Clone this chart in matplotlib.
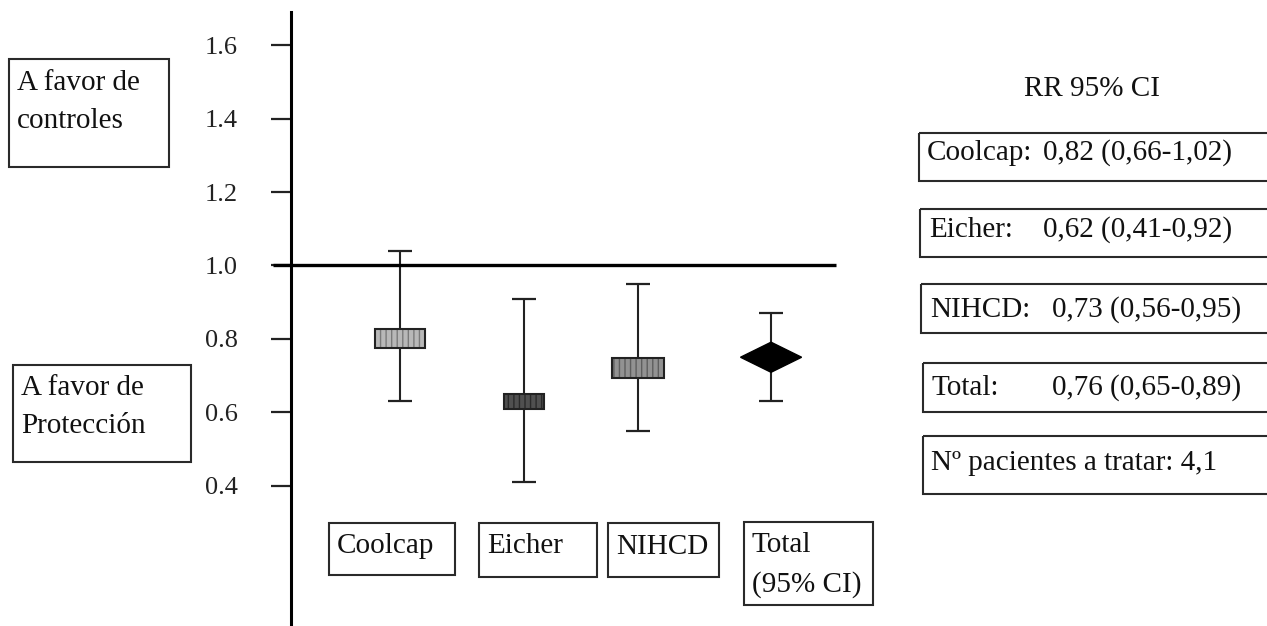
import matplotlib
matplotlib.use("Agg")
import matplotlib.pyplot as plt
from matplotlib.patches import Rectangle, Polygon

# ---------------- data ----------------
studies = ["Coolcap", "Eicher", "NIHCD", "Total"]
rr_point = [0.80, 0.63, 0.72, 0.75]
ci_lower = [0.63, 0.41, 0.55, 0.63]
ci_upper = [1.04, 0.91, 0.95, 0.87]
yticks = [0.4, 0.6, 0.8, 1.0, 1.2, 1.4, 1.6]
ytick_labels = ["0.4", "0.6", "0.8", "1.0", "1.2", "1.4", "1.6"]
table_title = "RR 95% CI"
table_names = ["Coolcap:", "Eicher:", "NIHCD:", "Total:"]
table_values = ["0,82 (0,66-1,02)", "0,62 (0,41-0,92)",
                "0,73 (0,56-0,95)", "0,76 (0,65-0,89)"]
nnt_text = "Nº pacientes a tratar: 4,1"
label_controls = ["A favor de", "controles"]
label_protect = ["A favor de", "Protección"]
bottom_labels = [["Coolcap"], ["Eicher"], ["NIHCD"], ["Total", "(95% CI)"]]

# ---------------- layout / style ----------------
W, H = 1267, 626
FONT = "Liberation Serif"
FS = 21
x_pos = [0.0, 1.0, 1.925, 3.0]                 # category positions
box_w = [0.404, 0.323, 0.42]
box_h = [0.052, 0.041, 0.0545]
box_fill = ["#b8b8b8", "#505050", "#929292"]
box_hatch = ["#7a7a7a", "#2a2a2a", "#5e5e5e"]
diamond_hw, diamond_hh = 0.247, 0.041

plt.rcParams["hatch.linewidth"] = 1.0

fig = plt.figure(figsize=(W / 100, H / 100), dpi=100)
fig.patch.set_facecolor("white")

# main axes: left spine at pixel x=291, top at pixel y=12
ax = fig.add_axes([291 / W, 0, (836 - 291) / W, (H - 12) / H])
ax.set_xlim(-0.881, 3.525)
ax.set_ylim(0.0177, 1.6907)
for s in ["top", "right", "bottom"]:
    ax.spines[s].set_visible(False)
ax.spines["left"].set_linewidth(2.2)
ax.spines["left"].set_color("black")
ax.set_xticks([])
ax.set_yticks(yticks)
ax.set_yticklabels(ytick_labels, fontfamily=FONT, fontsize=19)
ax.tick_params(axis="y", direction="out", length=14.4, width=1.6,
               pad=24, colors="#222222")
ax.patch.set_alpha(0)

# reference line at RR = 1
ax.plot([-1.03, 3.525], [1.0, 1.0], color="black", lw=2.4,
        solid_capstyle="butt", clip_on=False, zorder=3)

# confidence intervals
yerr = [[p - lo for p, lo in zip(rr_point, ci_lower)],
        [hi - p for p, hi in zip(rr_point, ci_upper)]]
ax.errorbar(x_pos, rr_point, yerr=yerr, fmt="none", ecolor="#222222",
            elinewidth=1.5, capsize=8.3, capthick=1.6, zorder=2)

# study boxes
for i in range(3):
    x, y, w, h = x_pos[i], rr_point[i], box_w[i], box_h[i]
    ax.add_patch(Rectangle((x - w / 2, y - h / 2), w, h, facecolor=box_fill[i],
                           edgecolor=box_hatch[i], hatch="|||", lw=0, zorder=4))
    ax.add_patch(Rectangle((x - w / 2, y - h / 2), w, h, facecolor="none",
                           edgecolor="#222222", lw=1.5, zorder=5))

# total diamond
xd, yd = x_pos[3], rr_point[3]
ax.add_patch(Polygon([(xd - diamond_hw, yd), (xd, yd + diamond_hh),
                      (xd + diamond_hw, yd), (xd, yd - diamond_hh)],
                     closed=True, facecolor="black", edgecolor="black",
                     lw=1, zorder=5))

# ---------------- overlay in pixel coordinates ----------------
ov = fig.add_axes([0, 0, 1, 1])
ov.set_xlim(0, W)
ov.set_ylim(H, 0)
ov.axis("off")
ov.patch.set_alpha(0)


def box(x0, y0, x1, y1):
    ov.add_patch(Rectangle((x0, y0), x1 - x0, y1 - y0, facecolor="none",
                           edgecolor="#2a2a2a", lw=1.5))


def txt(x, y, s, ha="left", size=FS):
    ov.text(x, y, s, ha=ha, va="baseline", fontfamily=FONT, fontsize=size,
            color="#111111")


# left annotation boxes
box(9, 59, 169, 167)
txt(17, 90, label_controls[0])
txt(17, 128, label_controls[1])
box(13, 365, 191, 462)
txt(21, 395, label_protect[0])
txt(21, 433, label_protect[1])

# bottom study label boxes
bottom_boxes = [(329, 523, 455, 575), (479, 523, 597, 577),
                (608, 523, 719, 577), (744, 522, 873, 605)]
bottom_text_x = [337, 487, 616, 752]
bottom_baselines = [[553], [553], [554], [552, 592]]
for (x0, y0, x1, y1), tx, lines, bls in zip(bottom_boxes, bottom_text_x,
                                            bottom_labels, bottom_baselines):
    box(x0, y0, x1, y1)
    for line, bl in zip(lines, bls):
        txt(tx, bl, line)

# right table
txt(1092, 96, table_title, ha="center")
right_boxes = [(919, 133, 1290, 181), (920, 209, 1290, 257),
               (921, 284, 1290, 333), (923, 363, 1290, 412)]
name_x = [927, 929, 930, 931]
value_x = [1043, 1043, 1052, 1052]
baselines = [160, 237, 317, 395]
for (x0, y0, x1, y1), nx, vx, bl, nm, vl in zip(right_boxes, name_x, value_x,
                                                 baselines, table_names,
                                                 table_values):
    box(x0, y0, x1, y1)
    txt(nx, bl, nm)
    txt(vx, bl, vl)
box(923, 436, 1290, 494)
txt(931, 470, nnt_text)

fig.savefig("out.png", dpi=100, facecolor="white")
